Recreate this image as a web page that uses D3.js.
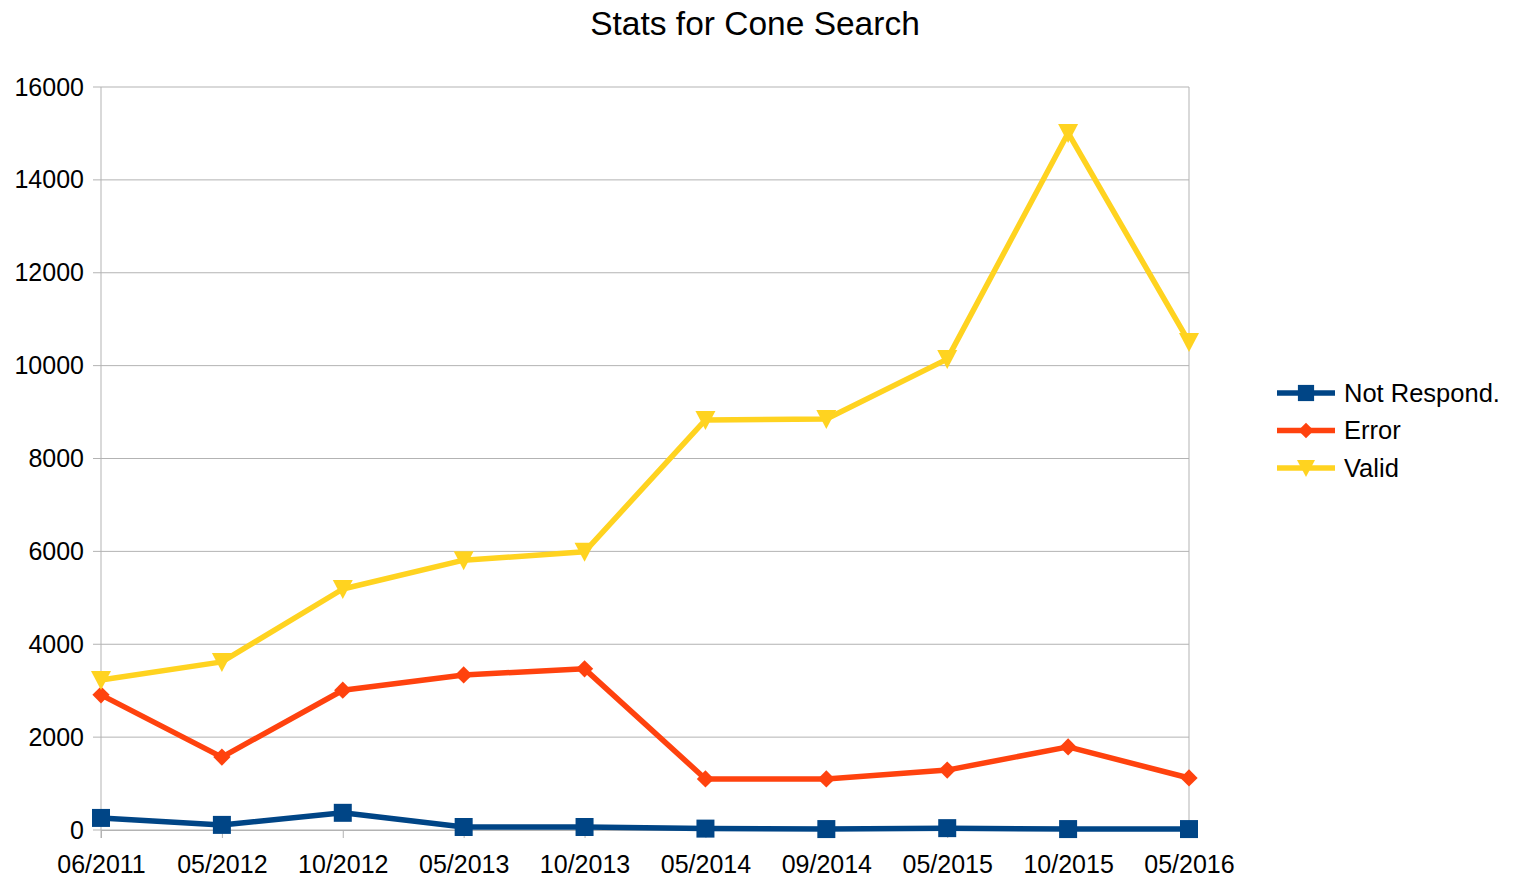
<!DOCTYPE html>
<html>
<head>
<meta charset="utf-8">
<script src="https://cdn.jsdelivr.net/npm/d3@7"></script>
<style>
  body { margin: 0; background: #fff; }
  text { font-family: "Liberation Sans", Arial, sans-serif; fill: #000; }
</style>
</head>
<body>
<div id="chart"></div>
<script>
// categories along the x axis
const dates = ["06/2011", "05/2012", "10/2012", "05/2013", "10/2013",
               "05/2014", "09/2014", "05/2015", "10/2015", "05/2016"];
// series values
const notRespond = [260, 110, 370, 65, 65, 30, 20, 40, 20, 20];
const errorVals  = [2910, 1570, 3010, 3340, 3470, 1100, 1100, 1290, 1790, 1120];
const validVals  = [3230, 3620, 5190, 5810, 5990, 8830, 8850, 10140, 15010, 10510];
// y axis ticks
const yTicks = [0, 2000, 4000, 6000, 8000, 10000, 12000, 14000, 16000];

const series = [
    {name: "Not Respond.", values: notRespond, color: "#004586", symbol: "square"},
    {name: "Error",        values: errorVals,  color: "#ff420e", symbol: "diamond"},
    {name: "Valid",        values: validVals,  color: "#ffd320", symbol: "triangle"}
];

const width = 1520, height = 877;
const margin = {top: 87, right: 331, bottom: 47, left: 101};
const cWidth = width - margin.left - margin.right;
const cHeight = height - margin.top - margin.bottom;
const font = '"Liberation Sans", Arial, sans-serif';

const svg = d3.select('#chart').append('svg')
    .attr('width', width)
    .attr('height', height);

// title
svg.append('text')
    .attr('x', 755)
    .attr('y', 35)
    .attr('text-anchor', 'middle')
    .attr('font-size', '33.5px')
    .text('Stats for Cone Search');

const g = svg.append('g').attr('transform', `translate(${margin.left},${margin.top})`);

const x = d3.scalePoint().domain(dates).range([0, cWidth]);
const y = d3.scaleLinear().domain([0, 16000]).range([cHeight, 0]);

// horizontal grid lines
g.selectAll('.grid')
    .data(yTicks)
    .enter().append('line')
    .attr('x1', -8)
    .attr('x2', cWidth)
    .attr('y1', d => y(d))
    .attr('y2', d => y(d))
    .attr('stroke', '#b3b3b3')
    .attr('stroke-width', 1);

// left and right border of the plot
g.append('line').attr('x1', 0).attr('x2', 0).attr('y1', 0).attr('y2', cHeight + 8)
    .attr('stroke', '#b3b3b3');
g.append('line').attr('x1', cWidth).attr('x2', cWidth).attr('y1', 0).attr('y2', cHeight)
    .attr('stroke', '#b3b3b3');

// x axis
const xAxis = g.append('g')
    .attr('transform', `translate(0,${cHeight})`)
    .call(d3.axisBottom(x).tickSize(8).tickPadding(17));
xAxis.select('.domain').attr('stroke', '#b3b3b3');
xAxis.selectAll('.tick line').attr('stroke', '#b3b3b3');
xAxis.selectAll('.tick text').attr('font-size', '25px').attr('fill', '#000')
    .attr('font-family', font);

// y axis
const yAxis = g.append('g')
    .call(d3.axisLeft(y).tickValues(yTicks).tickSize(0).tickPadding(17).tickFormat(d3.format('d')));
yAxis.select('.domain').remove();
yAxis.selectAll('.tick text').attr('font-size', '25px').attr('fill', '#000')
    .attr('font-family', font);

// marker shapes
const symbols = {
    square: d3.symbol().type(d3.symbolSquare).size(324),
    diamond: d3.symbol().type(d3.symbolDiamond2).size(190)
};
function drawMarker(sel, s) {
    if (s.symbol === 'triangle') {
        sel.append('path')
            .attr('d', 'M-10,-9L10,-9L0,10Z')
            .attr('fill', s.color);
    } else {
        sel.append('path')
            .attr('d', symbols[s.symbol]())
            .attr('fill', s.color);
    }
}

const line = d3.line()
    .x((d, i) => x(dates[i]))
    .y(d => y(d));

// lines and markers
series.forEach(s => {
    g.append('path')
        .datum(s.values)
        .attr('fill', 'none')
        .attr('stroke', s.color)
        .attr('stroke-width', 5.5)
        .attr('stroke-linejoin', 'round')
        .attr('d', line);

    g.selectAll('.m-' + s.symbol)
        .data(s.values)
        .enter().append('g')
        .attr('class', 'm-' + s.symbol)
        .attr('transform', (d, i) => `translate(${x(dates[i])},${y(d)})`)
        .each(function () { drawMarker(d3.select(this), s); });
});

// legend
const legend = svg.selectAll('.legend')
    .data(series)
    .enter().append('g')
    .attr('class', 'legend')
    .attr('transform', (d, i) => `translate(1277,${393 + i * 37.5})`);

legend.append('line')
    .attr('x1', 0).attr('x2', 58)
    .attr('stroke', d => d.color)
    .attr('stroke-width', 5.5);

legend.each(function (d) {
    const m = d3.select(this).append('g').attr('transform', 'translate(29,0) scale(0.9)');
    drawMarker(m, d);
});

legend.append('text')
    .attr('x', 67)
    .attr('y', 0)
    .attr('dy', '0.35em')
    .attr('font-size', '25.5px')
    .text(d => d.name);
</script>
</body>
</html>
